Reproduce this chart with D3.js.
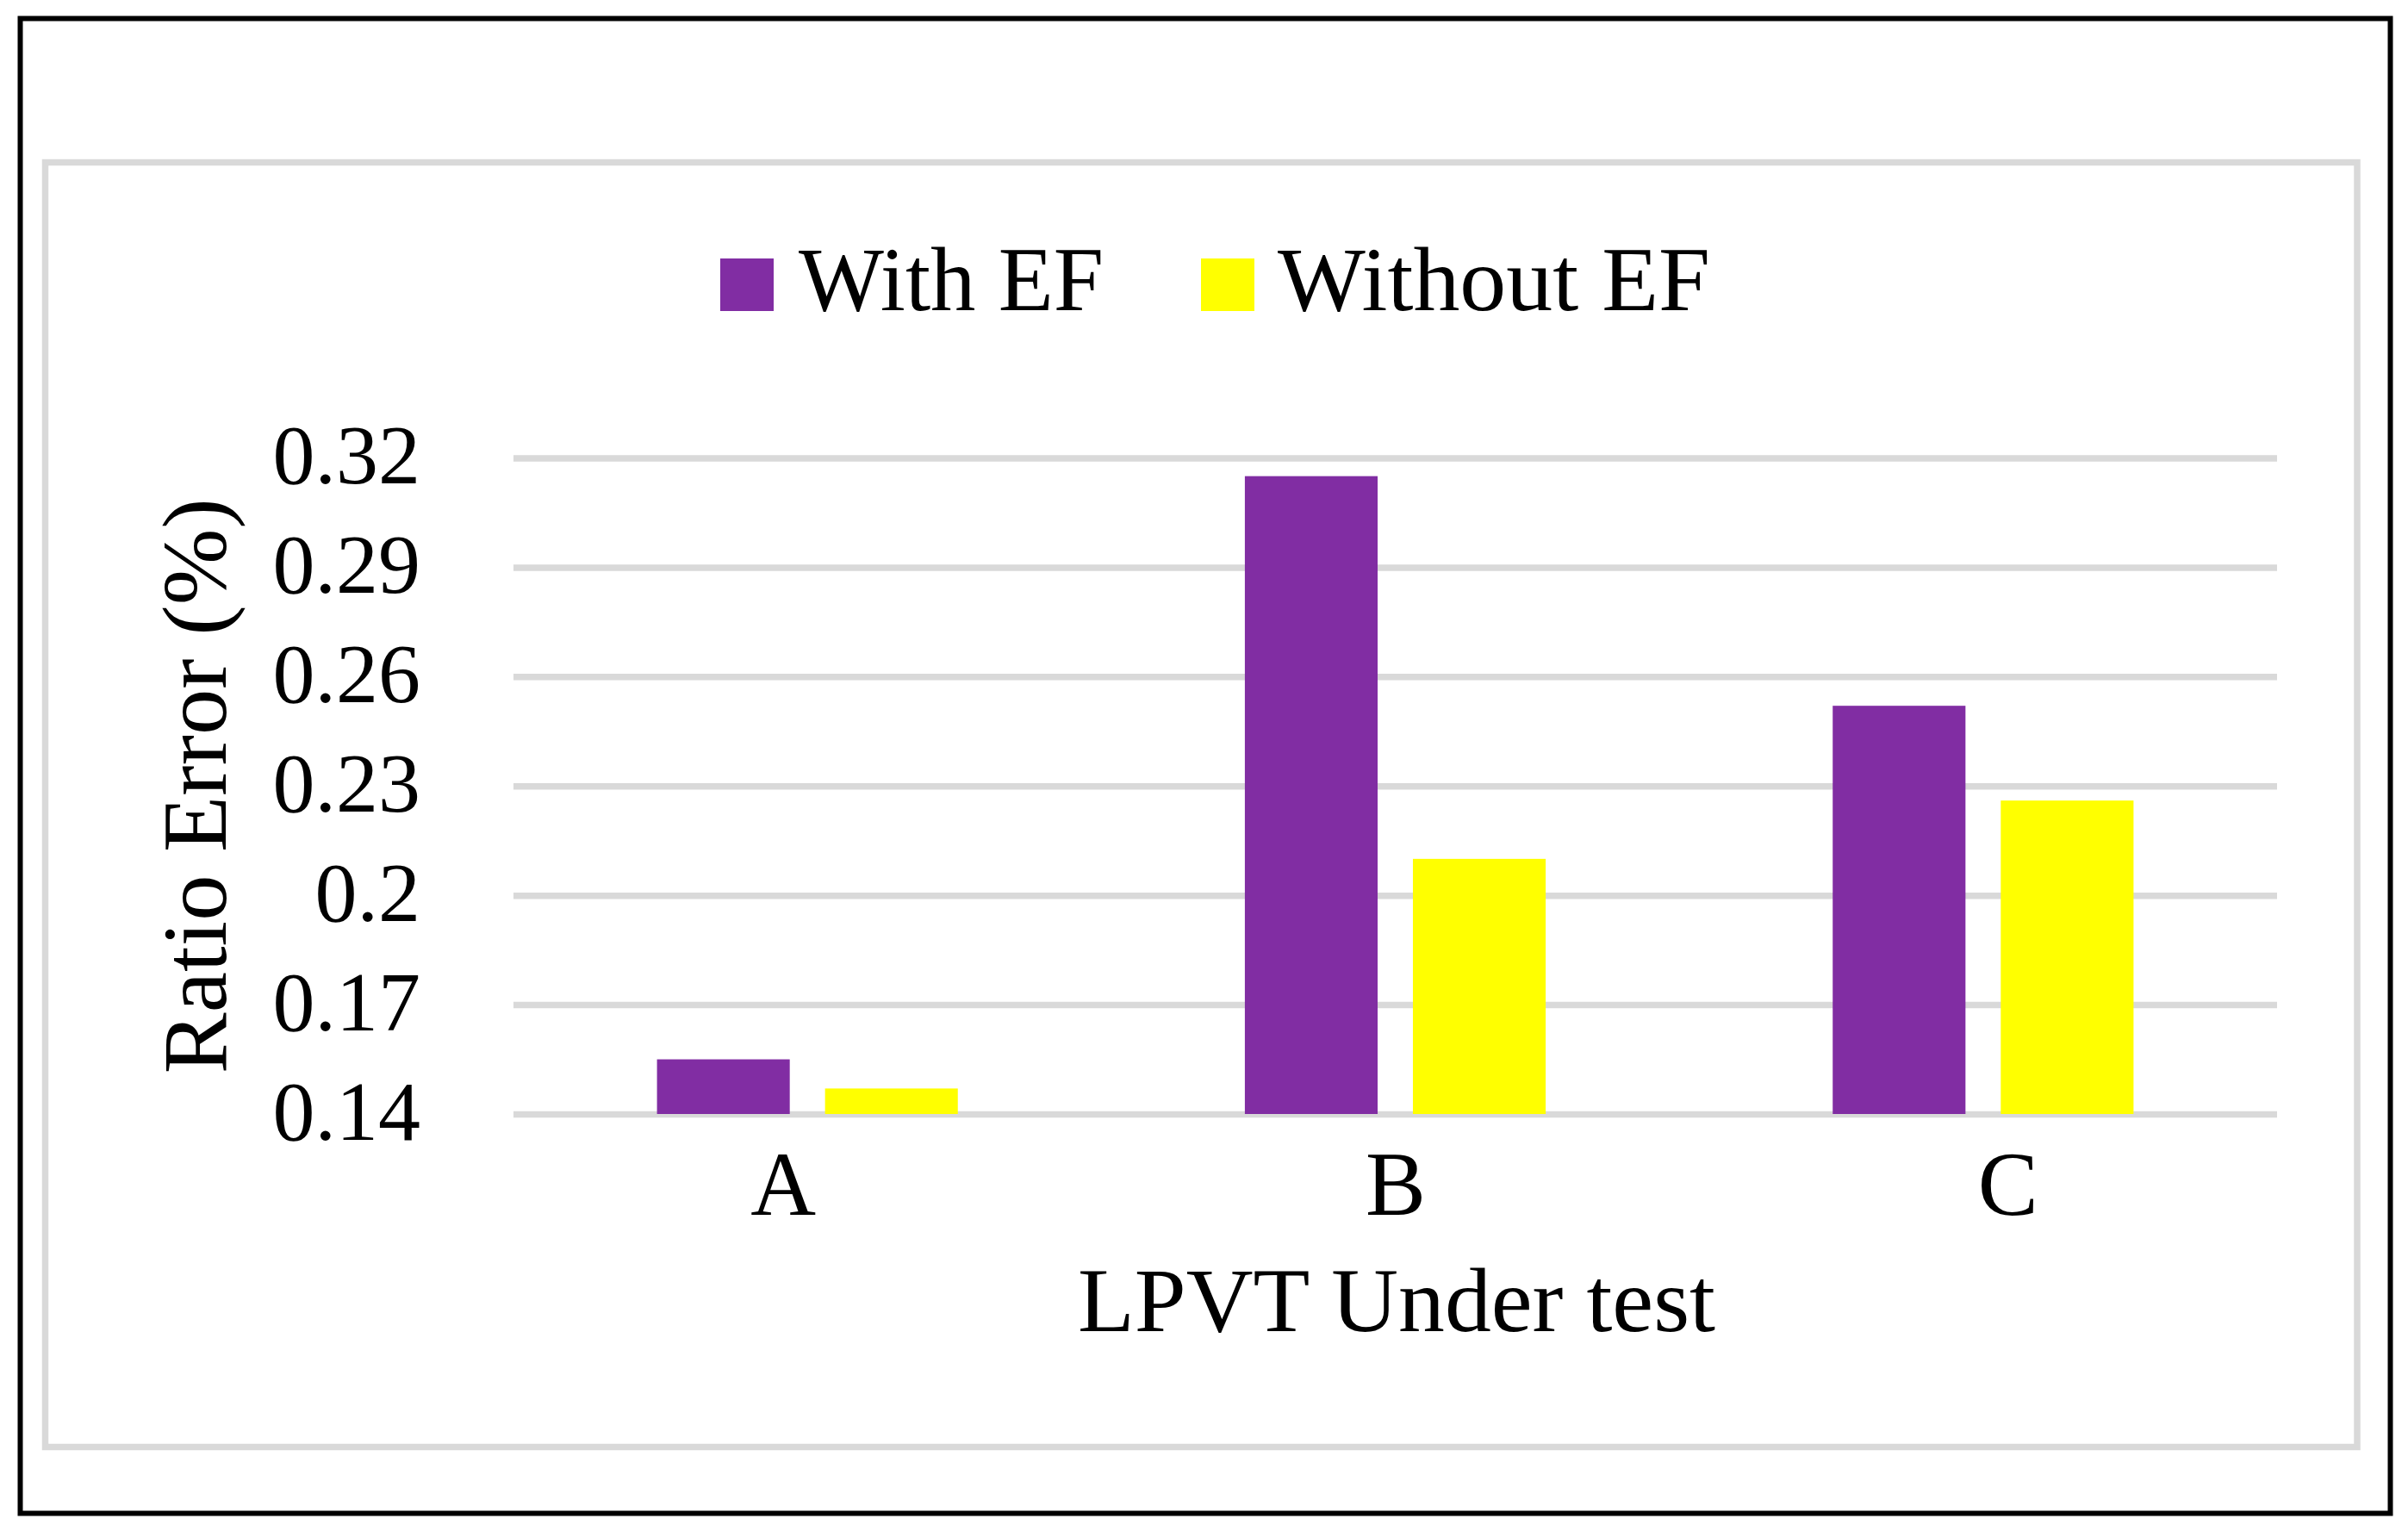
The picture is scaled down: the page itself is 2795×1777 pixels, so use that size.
<!DOCTYPE html>
<html lang="en">
  <head>
    <meta charset="UTF-8" />
    <title>Ratio Error</title>
    <style>
      body { margin: 0; background: #fff; }
      svg { display: block; }
      text { font-family: "Palatino Linotype", "Book Antiqua", Palatino, "Liberation Serif", serif; fill: #000; }
    </style>
  </head>
  <body>
    <svg></svg>

    <script src="https://d3js.org/d3.v7.min.js"></script>
    <script>
      // Data
      const categories = ["A", "B", "C"];
      const seriesNames = ["With EF", "Without EF"];
      const withEF = [0.155, 0.315, 0.252];
      const withoutEF = [0.147, 0.21, 0.226];
      const yTicks = [0.14, 0.17, 0.2, 0.23, 0.26, 0.29, 0.32];
      const colors = ["#812da3", "#ffff00"];

      const W = 2795;
      const H = 1777;
      const plot = { left: 596, right: 2643, top: 531.5, bottom: 1293 };

      const svg = d3.select("svg").attr("width", W).attr("height", H);

      // outer black frame + inner grey chart border
      svg.append("rect")
        .attr("x", 23.5).attr("y", 21.5)
        .attr("width", 2751).attr("height", 1735)
        .attr("fill", "#fff").attr("stroke", "#000").attr("stroke-width", 6);

      svg.append("rect")
        .attr("x", 52.5).attr("y", 188.5)
        .attr("width", 2683.5).attr("height", 1491)
        .attr("fill", "none").attr("stroke", "#d9d9d9").attr("stroke-width", 7.5);

      // Scales
      const y = d3.scaleLinear()
        .domain([0.14, 0.32])
        .range([plot.bottom, plot.top]);

      const x0 = d3.scaleBand()
        .domain(categories)
        .range([plot.left, plot.right]);

      const x1 = d3.scaleBand()
        .domain(seriesNames)
        .range([0, x0.bandwidth()])
        .paddingInner(0.21)
        .paddingOuter(0.854);

      // category labels sit a bit wider apart than the bar groups
      const xLabel = d3.scalePoint()
        .domain(categories)
        .range([plot.left, plot.right])
        .padding(0.44);

      // Y axis with gridlines
      const yAxis = svg.append("g")
        .attr("transform", `translate(${plot.left},0)`)
        .call(d3.axisLeft(y)
          .tickValues(yTicks)
          .tickFormat((d) => d)
          .tickSize(-(plot.right - plot.left))
          .tickPadding(108));

      yAxis.select(".domain").remove();
      yAxis.selectAll("line").attr("stroke", "#d9d9d9").attr("stroke-width", 7.5);
      yAxis.selectAll("text")
        .style("font-size", "98px")
        .attr("dy", "0.3em");

      // X axis labels
      const xAxis = svg.append("g")
        .attr("transform", `translate(0,${plot.bottom})`)
        .call(d3.axisBottom(xLabel).tickSize(0).tickPadding(42));

      xAxis.select(".domain").remove();
      xAxis.selectAll("text").style("font-size", "105px");

      // Bars
      const rows = categories.map((c, i) => ({
        cat: c,
        values: [withEF[i], withoutEF[i]],
      }));

      svg.append("g")
        .selectAll("g")
        .data(rows)
        .join("g")
        .attr("transform", (d) => `translate(${x0(d.cat)},0)`)
        .selectAll("rect")
        .data((d) => d.values.map((v, j) => ({ name: seriesNames[j], v, j })))
        .join("rect")
        .attr("x", (d) => x1(d.name))
        .attr("width", x1.bandwidth())
        .attr("y", (d) => y(d.v))
        .attr("height", (d) => y(0.14) - y(d.v))
        .attr("fill", (d) => colors[d.j]);

      // Axis titles (stretched a little towards the Palatino widths)
      svg.append("text")
        .attr("transform", `translate(262,${(plot.top + plot.bottom) / 2}) rotate(-90)`)
        .attr("text-anchor", "middle")
        .attr("textLength", 668)
        .attr("lengthAdjust", "spacingAndGlyphs")
        .style("font-size", "105px")
        .text("Ratio Error (%)");

      svg.append("text")
        .attr("x", 1621)
        .attr("y", 1545)
        .attr("text-anchor", "middle")
        .attr("textLength", 740)
        .attr("lengthAdjust", "spacingAndGlyphs")
        .style("font-size", "105px")
        .text("LPVT Under test");

      // Legend
      const legendWidths = [354, 502];
      const legend = svg.append("g")
        .attr("transform", "translate(836,300)");

      const item = legend.selectAll("g")
        .data(seriesNames)
        .join("g")
        .attr("transform", (d, i) => `translate(${i * 558},0)`);

      item.append("rect")
        .attr("width", 62)
        .attr("height", 61)
        .attr("fill", (d, i) => colors[i]);

      item.append("text")
        .attr("x", (d, i) => (i ? 89 : 91))
        .attr("y", 60)
        .attr("textLength", (d, i) => legendWidths[i])
        .attr("lengthAdjust", "spacingAndGlyphs")
        .style("font-size", "105px")
        .text((d) => d);
    </script>
  </body>
</html>
